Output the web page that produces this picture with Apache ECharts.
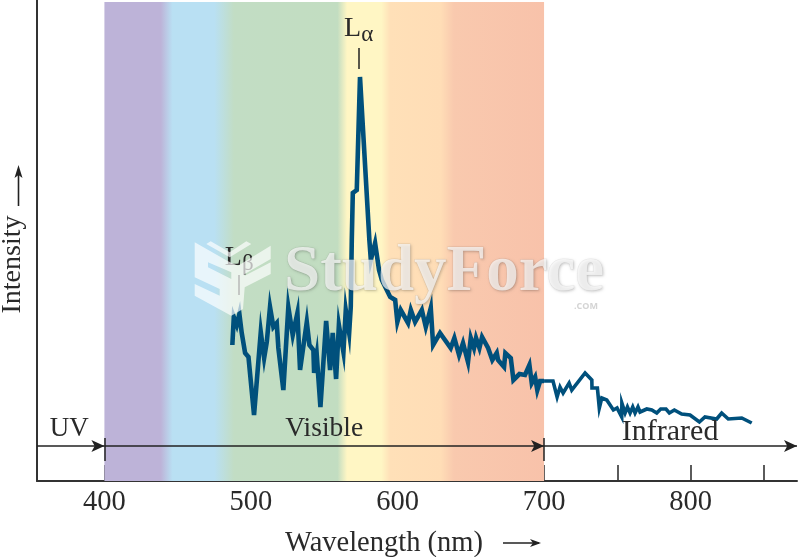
<!DOCTYPE html>
<html><head><meta charset="utf-8">
<style>html,body{margin:0;padding:0;background:#fff}#c{width:800px;height:557px}</style>
<script src="https://cdn.jsdelivr.net/npm/echarts@6/dist/echarts.min.js"></script>
</head><body><div id="c"></div>
<script>
const wavelengthsVisible=[487.3,488.3,490.3,492.1,493.7,496,498.3,502.1,506.7,509,510.8,513,515.3,517.6,518.7,522.1,525.5,528.5,531.7,533.5,538.1,539.9,542.6,543.1,544.9,547.4,551.3,554,555.8,558.1,560,563.1,564.7,567,568.1,568.8,569.5,572.2,574.4,580.8,581.8,584.7,587.4,589.3,595,598.4,599.9,602.2,607.2,609.1,612,616.6,619.3,622.7,624.3,629,632.4,636.3,638.8,642,644.7,648.1,650,652.2,653.6,655.9,657.7,661.8,664.7,667.7,668.6,672.7,673.6,677.3,679.1,683.2,687,690,691.6,693.9,695.4,697.3,700];
const intensityVisible=[136,164,156,167,148,128,124,66,149,123,139,174,154,158,133,91,174,146,168,111,159,136,131,108,126,74,160,111,148,102,156,129,171,148,174,241,288,291,404,241,221,238,211,201,184,181,159,171,158,171,159,171,154,173,136,148,141,133,143,126,138,119,143,133,143,133,144,133,121,128,121,114,128,123,101,107,106,116,98,104,91,100,100];
const wavelengthsInfrared=[700,706.1,708.9,710.9,713,717.1,718.9,728,732.6,732.7,736.4,737.7,739.4,742.8,747.3,749.8,753,753.1,755.3,756.9,758.7,760.5,762.1,764.1,765.5,770.1,773.5,776.9,779.6,783.2,785.5,788.9,793.9,799.6,806,809.8,817.8,821.2,825.7,834.9,841.7];
const intensityInfrared=[100,100,84,94,88,98,91,108,101,93,93,73,83,81,71,73,64,78,68,74,68,74,68,74,69,72,71,68,72,72,68,71,67,66,59,64,62,68,62,63,58];
const tickValues=[400,450,500,550,600,650,700,750,800,850];
const tickLabels=[400,500,600,700,800];
const regionEdges=[354,400,700,872.6];
const regionY=35;
const spectrumStops=[[0,'#BDB3D8'],[0.128,'#BDB3D8'],[0.155,'#B9E0F3'],[0.25,'#B9E0F3'],[0.295,'#C2DDC4'],[0.53,'#C2DDC1'],[0.552,'#FFF6C4'],[0.63,'#FFF6C4'],[0.65,'#FFE0B8'],[0.765,'#FFDDB6'],[0.795,'#F9C9AE'],[1,'#F8C2AA']];
const serif='"Liberation Serif",serif';
const ink='#2a2a2a';
const traceColor='#00507C';
const veil='rgba(255,255,255,0.68)';

const chart=echarts.init(document.getElementById('c'),null,{renderer:'canvas'});
const pair=(xs,ys)=>xs.map((x,i)=>[x,ys[i]]);
const textPoint=(coord,text,fontSize)=>({coord,value:text,symbol:'circle',symbolSize:1,itemStyle:{color:'rgba(0,0,0,0)'},label:{show:true,position:'inside',formatter:text,color:ink,fontFamily:serif,fontSize:fontSize||27,
  rich:{b:{fontFamily:serif,fontSize:28,color:ink},s:{fontFamily:serif,fontSize:23,color:ink,padding:[12,0,0,0]}}}});
chart.setOption({
  animation:false,
  grid:{left:37,right:3,top:0,bottom:76,outerBoundsMode:'none'},
  xAxis:{type:'value',min:354,max:872.6,
    name:'Wavelength (nm)',nameLocation:'middle',nameGap:48,
    nameTextStyle:{fontFamily:serif,fontSize:28.5,color:ink,padding:[0,66,0,0]},
    axisLine:{show:true,lineStyle:{color:'#333',width:2}},
    axisTick:{show:true,inside:true,length:16,customValues:tickValues,lineStyle:{color:'#333',width:1.6}},
    axisLabel:{show:true,customValues:tickLabels,margin:7,fontFamily:serif,fontSize:28.5,color:ink},
    splitLine:{show:false}},
  yAxis:{type:'value',min:0,max:481,
    name:'Intensity',nameLocation:'middle',nameGap:10,
    nameTextStyle:{fontFamily:serif,fontSize:28,color:ink,padding:[0,48,0,0]},
    axisLine:{show:true,lineStyle:{color:'#333',width:2}},
    axisTick:{show:false},axisLabel:{show:false},splitLine:{show:false}},
  series:[
    {type:'line',data:[],silent:true,z:1,
      markArea:{silent:true,itemStyle:{color:{type:'linear',x:0,y:0,x2:1,y2:0,colorStops:spectrumStops.map(([offset,color])=>({offset,color}))}},
        data:[[{coord:[400,479]},{coord:[700,0]}]]}},
    {type:'line',name:'Visible',data:pair(wavelengthsVisible,intensityVisible),showSymbol:false,z:3,
      lineStyle:{color:traceColor,width:4.6,join:'miter'}},
    {type:'line',name:'Infrared',data:pair(wavelengthsInfrared,intensityInfrared),showSymbol:false,z:3,
      lineStyle:{color:traceColor,width:3.6,join:'miter'}},
    {type:'line',data:[],silent:true,z:4,
      markLine:{silent:true,animation:false,symbolSize:[9,13],label:{show:false},
        lineStyle:{color:'#222',width:1.5,type:'solid'},
        data:[
          [{coord:[regionEdges[0],regionY],symbol:'none'},{coord:[regionEdges[1],regionY],symbol:'arrow'}],
          [{coord:[regionEdges[1],regionY],symbol:'none'},{coord:[regionEdges[2],regionY],symbol:'arrow'}],
          [{coord:[regionEdges[2],regionY],symbol:'none'},{coord:[regionEdges[3],regionY],symbol:'arrow'}],
          [{coord:[regionEdges[1],20],symbol:'none'},{coord:[regionEdges[1],43],symbol:'none'}],
          [{coord:[regionEdges[2],20],symbol:'none'},{coord:[regionEdges[2],43],symbol:'none'}],
          [{coord:[573.3,412],symbol:'none'},{coord:[573.3,433],symbol:'none'}],
          [{coord:[492,186],symbol:'none'},{coord:[492,206],symbol:'none'}]
        ]},
      markPoint:{silent:true,animation:false,data:[
        textPoint([376,52],'UV'),
        textPoint([550,52],'Visible',27.5),
        textPoint([786,49],'Infrared',30),
        textPoint([573.5,452],'{b|L}{s|α}'),
        textPoint([492,223],'{b|L}{s|β}')
      ]}}
  ],
  graphic:[
    {type:'polygon',silent:true,z:100,shape:{points:[[194.7,242.3],[228,261.3],[238,265.7],[270.7,245.7],[270.7,259],[244.7,274],[244.7,275.7],[270.7,262.3],[270.7,274],[244.7,287.3],[243,309],[231.3,315.7],[194.7,295.7],[194.7,284],[219.7,295.7],[219.7,289],[194.7,277.3],[194.7,265.7],[208,262.3],[208,267.3],[231.3,279],[231.3,272.3],[208,262.3],[194.7,265.7]]},style:{fill:veil}},
    {type:'polygon',silent:true,z:100,shape:{points:[[210.7,241.3],[229.7,252.3],[246.3,241.3],[251.3,244],[229.7,257.3],[206.3,244]]},style:{fill:veil}},
    {type:'text',silent:true,z:100,x:284,y:241,style:{text:'StudyForce',font:'bold 65px "Liberation Serif",serif',fill:'rgba(250,250,250,0.72)',stroke:'rgba(0,0,0,0.07)',lineWidth:1,textShadowColor:'rgba(0,0,0,0.3)',textShadowBlur:3,textShadowOffsetX:1,textShadowOffsetY:1,shadowColor:'rgba(0,0,0,0.3)',shadowBlur:3,shadowOffsetX:1,shadowOffsetY:1}},
    {type:'text',silent:true,z:100,x:574,y:302,style:{text:'.COM',font:'bold 9px "Open Sans",sans-serif',fill:'#d4d4d4'}},
    {type:'line',silent:true,shape:{x1:503,y1:543,x2:539,y2:543},style:{stroke:'#222',lineWidth:1.4}},
    {type:'polygon',silent:true,shape:{points:[[541,543],[530,539],[533,543],[530,547]]},style:{fill:'#222'}},
    {type:'line',silent:true,shape:{x1:18.5,y1:206,x2:18.5,y2:170},style:{stroke:'#222',lineWidth:1.6}},
    {type:'polygon',silent:true,shape:{points:[[18.5,165],[14.5,178],[18.5,175],[22.5,178]]},style:{fill:'#222'}}
  ]
});
</script></body></html>
